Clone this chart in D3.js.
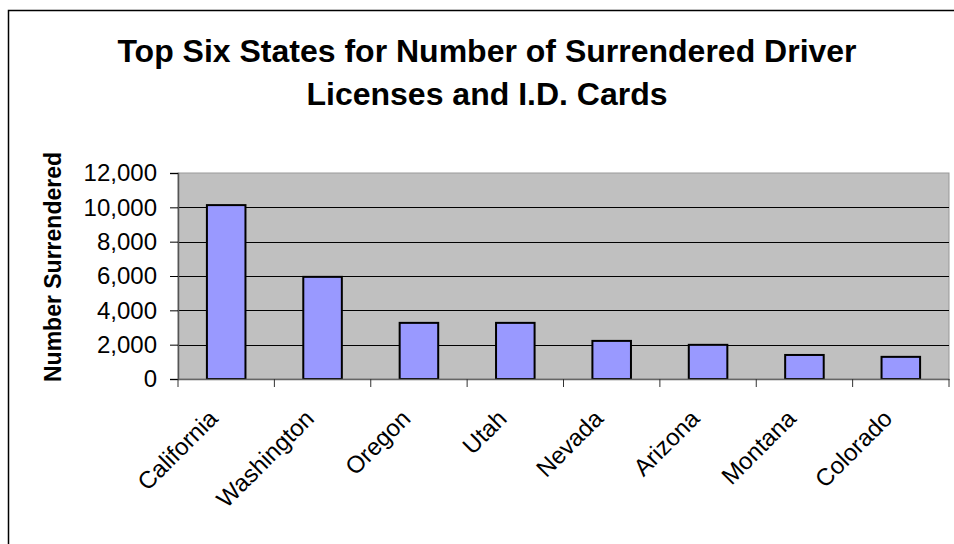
<!DOCTYPE html>
<html>
<head>
<meta charset="utf-8">
<script src="https://cdn.jsdelivr.net/npm/d3@7"></script>
<style>
  body { margin: 0; background: #fff; }
  text { font-family: Arial, "Liberation Sans", sans-serif; }
</style>
</head>
<body>
<div class="chart"></div>
<script>
var states = ["California", "Washington", "Oregon", "Utah", "Nevada", "Arizona", "Montana", "Colorado"];
var surrendered = [10130, 5950, 3270, 3270, 2220, 1990, 1400, 1290];
var yTicks = [0, 2000, 4000, 6000, 8000, 10000, 12000];
var titleLines = ["Top Six States for Number of Surrendered Driver", "Licenses and I.D. Cards"];

var svgWidth = 954;
var svgHeight = 544;
var margin = { top: 173, right: 5, bottom: 165, left: 178 };
var width = 949 - margin.left;
var height = 379 - margin.top;

var svg = d3.select(".chart")
    .append("svg")
    .attr("width", svgWidth)
    .attr("height", svgHeight);

// outer chart border (runs off right and bottom)
svg.append("path")
    .attr("d", "M8.5,560 V10.5 H970")
    .attr("fill", "none")
    .attr("stroke", "#000")
    .attr("stroke-width", 1.5);

// title
svg.append("g").selectAll("text")
    .data(titleLines)
    .enter()
    .append("text")
    .attr("x", 487)
    .attr("y", (d, i) => 62 + i * 43)
    .attr("text-anchor", "middle")
    .style("font-size", "32px")
    .style("font-weight", "bold")
    .text(d => d);

var chart = svg.append("g")
    .attr("transform", "translate(" + margin.left + "," + margin.top + ")");

var xScale = d3.scaleBand()
    .domain(states)
    .range([0, width])
    .padding(0);

var yScale = d3.scaleLinear()
    .domain([0, 12000])
    .range([height, 0]);

// plot background
chart.append("rect")
    .attr("width", width)
    .attr("height", height)
    .attr("fill", "#c0c0c0")
    .attr("stroke", "#999")
    .attr("stroke-width", 1);

// gridlines
chart.selectAll(".grid")
    .data(yTicks.filter(d => d > 0 && d < 12000))
    .enter()
    .append("line")
    .attr("class", "grid")
    .attr("x1", 0)
    .attr("x2", width)
    .attr("y1", d => Math.round(yScale(d)) + 0.5)
    .attr("y2", d => Math.round(yScale(d)) + 0.5)
    .attr("stroke", "#000")
    .attr("stroke-width", 1);

// bars
var barW = xScale.bandwidth() * 0.4;
chart.selectAll(".bar")
    .data(surrendered)
    .enter()
    .append("rect")
    .attr("class", "bar")
    .attr("x", (d, i) => xScale(states[i]) + xScale.bandwidth() / 2 - barW / 2)
    .attr("y", d => yScale(d))
    .attr("width", barW)
    .attr("height", d => height - yScale(d))
    .attr("fill", "#9999ff")
    .attr("stroke", "#000")
    .attr("stroke-width", 2);

// y axis
var leftAxis = d3.axisLeft(yScale)
    .tickValues(yTicks)
    .tickSize(8)
    .tickPadding(13)
    .tickFormat(d3.format(","));

var yAxis = chart.append("g")
    .attr("class", "y-axis")
    .call(leftAxis);
yAxis.select(".domain").attr("stroke", "#555").attr("stroke-width", 1.5);
yAxis.selectAll("line").attr("stroke", "#000");
yAxis.selectAll("text")
    .style("font-size", "24px")
    .attr("fill", "#000");

// x axis: ticks between categories
var bottomAxis = d3.axisBottom(xScale).tickSize(0).tickFormat("");
var xAxis = chart.append("g")
    .attr("class", "x-axis")
    .attr("transform", `translate(0, ${height})`)
    .call(bottomAxis);
xAxis.select(".domain").attr("stroke", "#666").attr("stroke-width", 1.5);

xAxis.selectAll(".sep")
    .data(states.concat([null]))
    .enter()
    .append("line")
    .attr("class", "sep")
    .attr("x1", (d, i) => i < states.length ? xScale(d) : width)
    .attr("x2", (d, i) => i < states.length ? xScale(d) : width)
    .attr("y1", 0)
    .attr("y2", 8)
    .attr("stroke", "#333");

// rotated category labels
xAxis.selectAll(".cat")
    .data(states)
    .enter()
    .append("text")
    .attr("class", "cat")
    .attr("text-anchor", "end")
    .attr("transform", d => "translate(" + (xScale(d) + xScale.bandwidth() / 2 - 7) + ",41) rotate(-45)")
    .style("font-size", "24px")
    .attr("fill", "#000")
    .text(d => d);

// y axis title
svg.append("text")
    .attr("transform", "translate(61,267) rotate(-90)")
    .attr("text-anchor", "middle")
    .style("font-size", "23px")
    .style("font-weight", "bold")
    .text("Number Surrendered");
</script>
</body>
</html>
